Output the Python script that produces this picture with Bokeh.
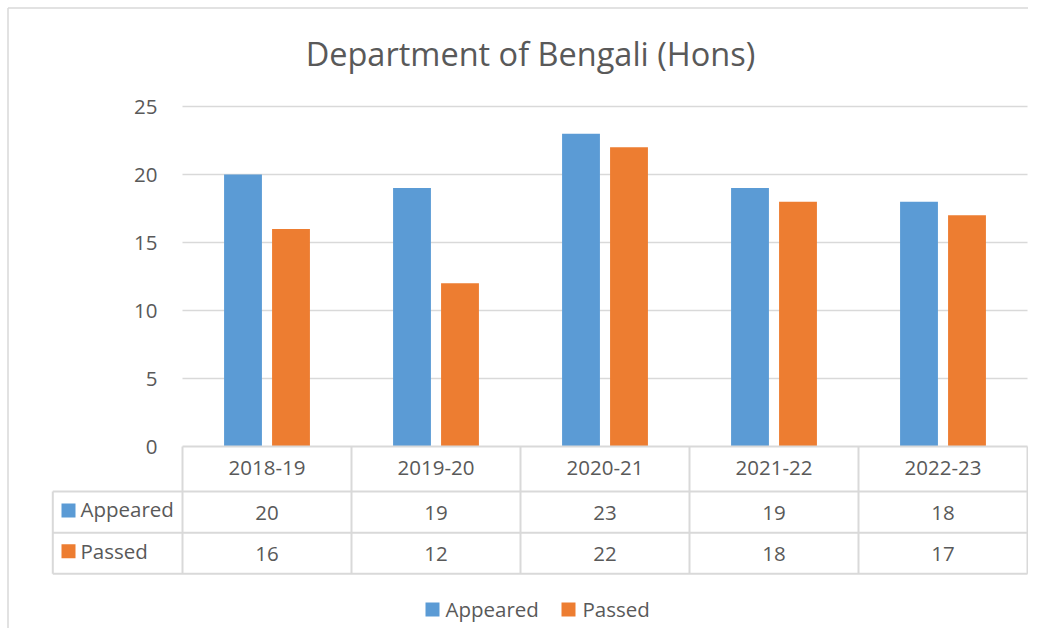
from bokeh.plotting import figure
from bokeh.models import Range1d
from bokeh.core.properties import value
from bokeh.embed import file_html
from bokeh.resources import INLINE

# ---- data ----
categories = ["2018-19", "2019-20", "2020-21", "2021-22", "2022-23"]
appeared = [20, 19, 23, 19, 18]
passed = [16, 12, 22, 18, 17]
series_names = ["Appeared", "Passed"]
y_ticks = [0, 5, 10, 15, 20, 25]
title_text = "Department of Bengali (Hons)"

# ---- styles ----
BLUE = "#5B9BD5"
ORANGE = "#ED7D31"
TEXT = "#595959"
GRID = "#D9D9D9"
FONT = value("Open Sans")
FS = "20.5px"

W, H = 1028, 628
OFF = 0               # canvas origin in picture px
X0_PX, CAT_PX = 182, 169      # plot area left edge, px per category
Y0_PX, UNIT_PX = 446, 13.6    # y=0 position, px per unit


def dx(px):
    return (px - X0_PX) / CAT_PX


def dy(px):
    return (Y0_PX - px) / UNIT_PX


p = figure(width=W, height=H,
           x_range=Range1d(dx(OFF), dx(OFF + W)),
           y_range=Range1d(dy(OFF + H), dy(OFF)),
           min_border=0, x_axis_location=None, y_axis_location=None,
           toolbar_location=None, output_backend="svg",
           outline_line_color=None, background_fill_color="white",
           border_fill_color="white")
p.grid.visible = False
p.title.visible = False

n = len(categories)
centers = [i + 0.5 for i in range(n)]

# chart border (left and top)
p.segment(x0=[dx(7.5), dx(7.5)], y0=[dy(7.5), dy(7.5)],
          x1=[dx(OFF + W), dx(7.5)], y1=[dy(7.5), dy(OFF + H)],
          line_color=GRID, line_width=1.5)

# gridlines
grid_vals = [t for t in y_ticks if t > 0]
p.segment(x0=[0] * len(grid_vals), y0=grid_vals, x1=[n] * len(grid_vals), y1=grid_vals,
          line_color=GRID, line_width=1.3)

common = dict(text_font=FONT, text_font_size=FS, text_color=TEXT, text_baseline="middle")

# y tick labels
p.text(x=[dx(157)] * len(y_ticks), y=y_ticks, text=[str(t) for t in y_ticks],
       text_align="right", **common)

# bars
OFFSET, BW = 0.142, 0.224
p.vbar(x=[c - OFFSET for c in centers], top=appeared, bottom=0, width=BW, fill_color=BLUE, line_color=None)
p.vbar(x=[c + OFFSET for c in centers], top=passed, bottom=0, width=BW, fill_color=ORANGE, line_color=None)

# data table lines
row_lines = [dy(491), dy(532.3), dy(573.3)]
left_x = dx(52.3)
p.segment(x0=[0], y0=[0], x1=[n], y1=[0], line_color=GRID, line_width=2)
p.segment(x0=[left_x] * 3, y0=row_lines, x1=[n] * 3, y1=row_lines, line_color=GRID, line_width=2)
p.segment(x0=list(range(n + 1)), y0=[0] * (n + 1), x1=list(range(n + 1)), y1=[row_lines[-1]] * (n + 1),
          line_color=GRID, line_width=2)
p.segment(x0=[left_x], y0=[row_lines[0]], x1=[left_x], y1=[row_lines[-1]], line_color=GRID, line_width=2)

# table header and values
p.text(x=centers, y=[dy(467.5)] * n, text=categories, text_align="center", **common)
p.text(x=centers, y=[dy(512)] * n, text=[str(v) for v in appeared], text_align="center", **common)
p.text(x=centers, y=[dy(553.5)] * n, text=[str(v) for v in passed], text_align="center", **common)

# table row labels with keys
p.scatter(x=[dx(68), dx(68)], y=[dy(510), dy(550.7)], marker="square", size=14,
          fill_color=[BLUE, ORANGE], line_color=None)
p.text(x=[dx(80), dx(80)], y=[dy(508), dy(550.5)], text=series_names, text_align="left", **common)

# legend
p.scatter(x=[dx(432), dx(568)], y=[dy(609), dy(609)], marker="square", size=14,
          fill_color=[BLUE, ORANGE], line_color=None)
p.text(x=[dx(445), dx(582)], y=[dy(608.5), dy(608.5)], text=series_names, text_align="left", **common)

# title
p.text(x=[dx(530)], y=[dy(53)], text=[title_text], text_align="center", text_baseline="middle",
       text_font=FONT, text_font_size="32.5px", text_color=TEXT)

open("out.html", "w").write(file_html(p, INLINE))
